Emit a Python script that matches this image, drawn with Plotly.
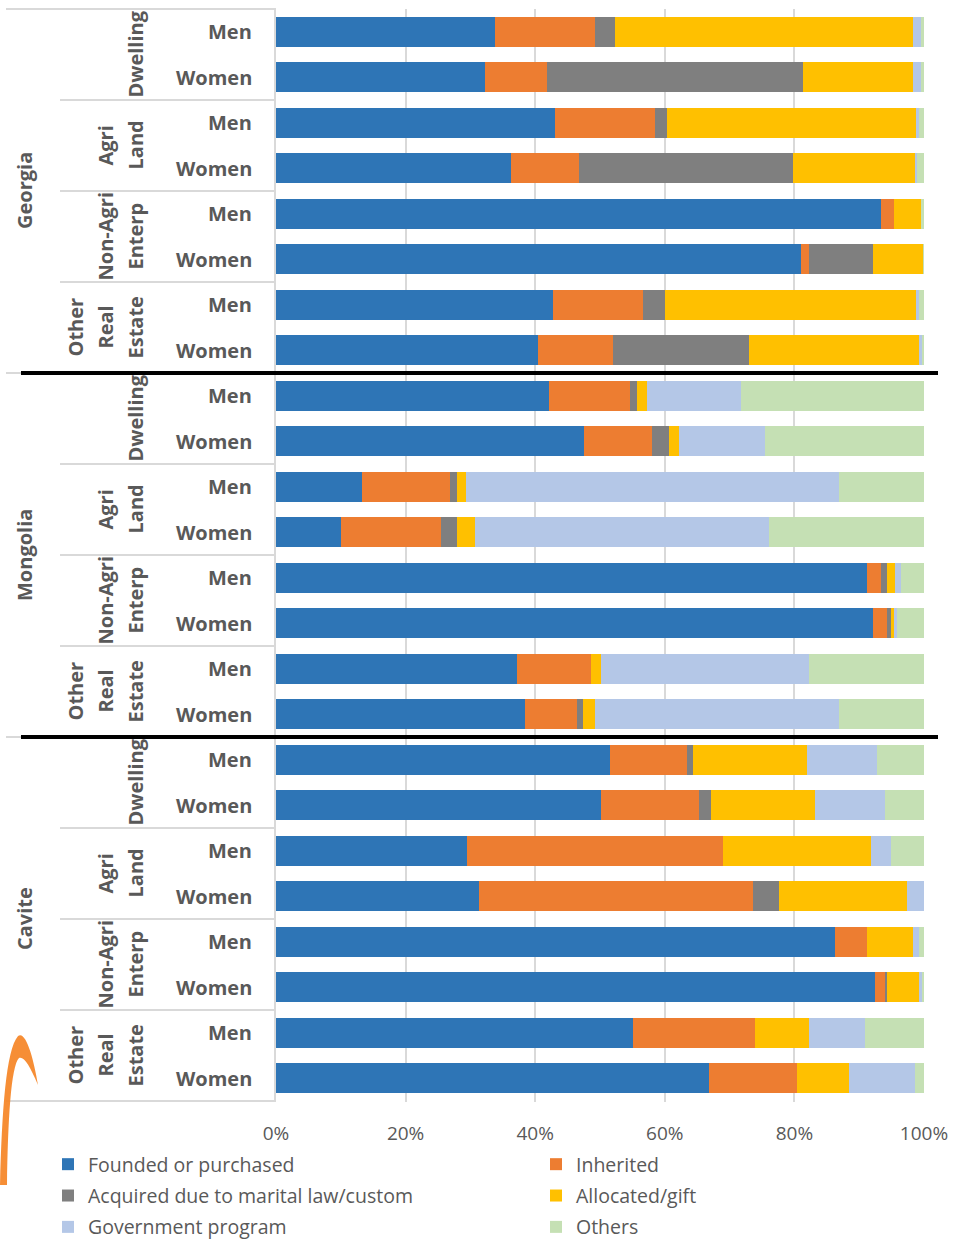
import plotly.graph_objects as go

# ---- data -----------------------------------------------------------------
regions = ["Georgia", "Mongolia", "Cavite"]
assets = ["Dwelling", "Agri Land", "Non-Agri Enterp", "Other Real Estate"]
sexes = ["Men", "Women"]

# shares (%) per row, ordered region -> asset -> sex
founded = [33.8, 32.2, 43.0, 36.2, 93.4, 81.0, 42.7, 40.5,
           42.1, 47.6, 13.3, 10.0, 91.2, 92.1, 37.2, 38.4,
           51.6, 50.1, 29.4, 31.3, 86.3, 92.4, 55.1, 66.8]
inherited = [15.4, 9.6, 15.5, 10.6, 1.9, 1.3, 13.9, 11.5,
             12.6, 10.5, 13.6, 15.4, 2.2, 2.2, 11.4, 8.0,
             11.8, 15.1, 39.6, 42.3, 4.9, 1.6, 18.8, 13.6]
marital = [3.1, 39.5, 1.8, 33.0, 0.0, 9.8, 3.4, 21.0,
           1.0, 2.5, 1.0, 2.5, 0.9, 0.6, 0.0, 1.0,
           0.9, 1.9, 0.0, 4.0, 0.0, 0.3, 0.0, 0.0]
allocated = [46.0, 17.0, 38.4, 18.9, 4.2, 7.8, 38.7, 26.3,
             1.6, 1.6, 1.4, 2.8, 1.2, 0.4, 1.5, 1.8,
             17.6, 16.1, 22.8, 19.8, 7.1, 5.0, 8.4, 8.0]
government = [1.2, 1.2, 0.6, 0.2, 0.0, 0.0, 0.6, 0.5,
              14.4, 13.2, 57.6, 45.4, 1.0, 0.6, 32.2, 37.7,
              10.9, 10.8, 3.1, 2.6, 1.0, 0.5, 8.6, 10.2]
others = [0.5, 0.5, 0.7, 1.1, 0.5, 0.1, 0.7, 0.2,
          28.3, 24.6, 13.1, 23.9, 3.5, 4.1, 17.7, 13.1,
          7.2, 6.0, 5.1, 0.0, 0.7, 0.2, 9.1, 1.4]

x_ticks = [0, 20, 40, 60, 80, 100]
x_tick_labels = [f"{v}%" for v in x_ticks]

series = [
    ("Founded or purchased", founded, "#2E75B6", "legend"),
    ("Inherited", inherited, "#ED7D31", "legend2"),
    ("Acquired due to marital law/custom", marital, "#7F7F7F", "legend"),
    ("Allocated/gift", allocated, "#FFC000", "legend2"),
    ("Government program", government, "#B4C7E7", "legend"),
    ("Others", others, "#C5E0B4", "legend2"),
]

# ---- geometry helpers (pixel -> paper) -------------------------------------
W, H = 954, 1242
ML, MR, MT, MB = 276, 30, 9, 140
PW, PH = W - ML - MR, H - MT - MB


def px(x):
    return (x - ML) / PW


def py(y):
    return (H - MB - y) / PH


TXT = "#595959"
GRID = "#D9D9D9"
FONT = "Open Sans"

# row keys
rows = []
for r in regions:
    for a in assets:
        for s in sexes:
            rows.append(f"{r}|{a}|{s}")

fig = go.Figure()
for name, vals, color, leg in series:
    fig.add_trace(go.Bar(
        y=rows, x=vals, name=name, orientation="h",
        marker=dict(color=color, line=dict(width=0)),
        legend=leg, legendgroup=name,
    ))

annotations = []
shapes = []

n_ass = len(assets)
n_sex = len(sexes)
per_region = n_ass * n_sex

for ri, r in enumerate(regions):
    base = ri * per_region
    # region label
    annotations.append(dict(
        text=f"<b>{r}</b>", x=px(24), xref="paper", xanchor="center",
        y=base + (per_region - 1) / 2, yref="y", yanchor="middle",
        textangle=-90, showarrow=False, font=dict(size=20, color=TXT, family=FONT)))
    for ai, a in enumerate(assets):
        start = base + ai * n_sex
        lines = a.split(" ")
        for li, line in enumerate(lines):
            xc = 135 - (len(lines) - 1 - li) * 30
            annotations.append(dict(
                text=f"<b>{line}</b>", x=px(xc), xref="paper", xanchor="center",
                y=start + (n_sex - 1) / 2, yref="y", yanchor="middle",
                textangle=-90, showarrow=False,
                font=dict(size=20, color=TXT, family=FONT)))
        for si, s in enumerate(sexes):
            annotations.append(dict(
                text=f"<b>{s}</b>", x=px(254), xref="paper", xanchor="right",
                y=rows[start + si], yref="y", yanchor="middle",
                showarrow=False, font=dict(size=20, color=TXT, family=FONT)))
        # separators between asset groups inside a region
        if ai > 0:
            yy = start - 0.5
            shapes.append(dict(type="line", xref="paper", yref="y",
                               x0=px(60), x1=0, y0=yy, y1=yy,
                               line=dict(color=GRID, width=2)))
    # region boundary lines in the label column
    yb = base + per_region - 0.5
    shapes.append(dict(type="line", xref="paper", yref="y",
                       x0=px(6), x1=0, y0=yb, y1=yb,
                       line=dict(color=GRID, width=2)))
    if ri < len(regions) - 1:
        shapes.append(dict(type="line", xref="paper", yref="y",
                           x0=px(21), x1=px(938), y0=yb, y1=yb,
                           line=dict(color="black", width=4)))

# top border of the label column
shapes.append(dict(type="line", xref="paper", yref="paper",
                   x0=px(6), x1=0, y0=1, y1=1,
                   line=dict(color=GRID, width=2)))

# orange swoosh at the lower-left edge
pts = [(0, 1185), (2, 1110), (6, 1050), (18, 1036), (26, 1030), (34, 1060),
       (38, 1085), (30, 1066), (24, 1056), (19, 1058), (11, 1066), (8, 1120), (7, 1185)]
p = [f"{px(a):.4f},{py(b):.4f}" for a, b in pts]
path = (f"M {p[0]} C {p[1]} {p[2]} {p[3]} C {p[4]} {p[5]} {p[6]} "
        f"C {p[7]} {p[8]} {p[9]} C {p[10]} {p[11]} {p[12]} Z")
shapes.append(dict(type="path", xref="paper", yref="paper", path=path,
                   fillcolor="#F58220", opacity=0.9, line=dict(width=0)))

legend_font = dict(size=19.5, color=TXT, family=FONT)
fig.update_layout(
    width=W, height=H,
    margin=dict(l=ML, r=MR, t=MT, b=MB, pad=0, autoexpand=False),
    paper_bgcolor="white", plot_bgcolor="white",
    barmode="stack", bargap=0.34,
    font=dict(family=FONT, color=TXT),
    xaxis=dict(range=[0, 100], tickvals=x_ticks, ticktext=x_tick_labels,
               showgrid=True, gridcolor=GRID, gridwidth=2,
               zeroline=False, showline=False, ticks="",
               ticklabelstandoff=18,
               tickfont=dict(size=19, color=TXT, family=FONT), fixedrange=True),
    yaxis=dict(type="category", categoryarray=rows, autorange="reversed",
               showticklabels=False, showgrid=False, zeroline=False,
               showline=True, linecolor=GRID, linewidth=2, ticks="",
               fixedrange=True),
    legend=dict(x=px(48), xanchor="left", y=py(1145), yanchor="top",
                orientation="v", tracegroupgap=3, font=legend_font,
                bgcolor="rgba(0,0,0,0)", traceorder="grouped"),
    legend2=dict(x=px(536), xanchor="left", y=py(1145), yanchor="top",
                 orientation="v", tracegroupgap=3, font=legend_font,
                 bgcolor="rgba(0,0,0,0)", traceorder="grouped"),
    annotations=annotations,
    shapes=shapes,
)

fig.write_html("out.html")
